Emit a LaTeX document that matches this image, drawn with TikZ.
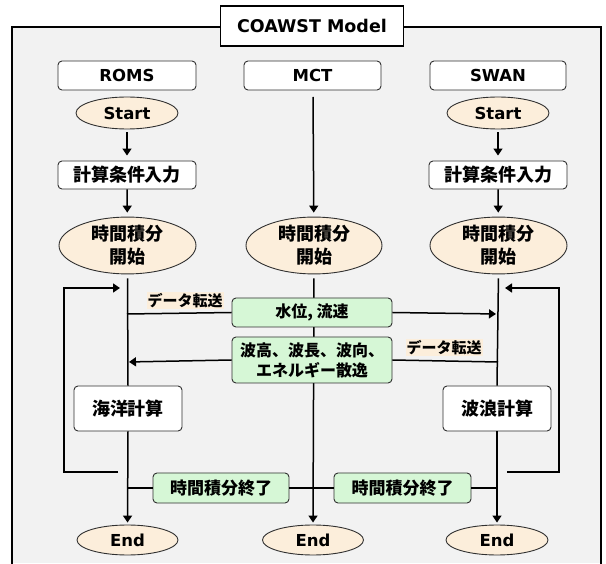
\documentclass[tikz,border=0pt]{standalone}
\usepackage{fontspec}
\setmainfont{DejaVu Sans}
\newfontfamily\jp{Noto Sans CJK JP}
\usetikzlibrary{shapes.geometric,arrows.meta}
\definecolor{bggray}{HTML}{F2F2F2}
\definecolor{peach}{HTML}{FCEEDB}
\definecolor{lgreen}{HTML}{D6F7D6}
\definecolor{edge}{HTML}{303030}
\tikzset{
  box/.style={draw=edge,line width=0.9pt,fill=white,rounded corners=4pt,inner sep=0pt,align=center,font=\bfseries\fontsize{16.5}{19}\selectfont},
  jbox/.style={box,font=\bfseries\jp\fontsize{18}{20}\selectfont},
  oval/.style={ellipse,draw=edge,line width=0.9pt,fill=peach,inner sep=0pt,align=center,font=\bfseries\fontsize{16.5}{22}\selectfont},
  joval/.style={oval,font=\bfseries\jp\fontsize{18}{23}\selectfont},
  gbox/.style={draw=edge,line width=0.9pt,fill=lgreen,rounded corners=4pt,inner sep=0pt,align=center,font=\bfseries\jp\fontsize{16}{20}\selectfont},
  lbl/.style={fill=peach,inner sep=1pt,font=\bfseries\jp\fontsize{15}{16}\selectfont},
  flow/.style={line width=1.5pt,draw=black},
  arr/.style={flow,-{Triangle[width=9pt,length=7pt]}},
}
\begin{document}
\begin{tikzpicture}[x=1pt,y=-1pt]
\useasboundingbox (0,0) rectangle (606,564);
% frame
\fill[bggray] (12,27) rectangle (601,563);
\draw[line width=1.6pt] (221,27) -- (12,27) -- (12,563.5);
\draw[line width=1.6pt] (403,27) -- (601,27) -- (601,563.5);
\node[draw=black,line width=1.6pt,fill=white,minimum width=183pt,minimum height=40pt,inner sep=0pt,font=\bfseries\fontsize{17.5}{19}\selectfont] (title) at (312,26) {COAWST Model};
% headers
\node[box,minimum width=138pt,minimum height=29pt] (roms) at (127,75.5) {ROMS};
\node[box,minimum width=137pt,minimum height=29pt] (mct) at (312.5,75.5) {MCT};
\node[box,minimum width=136pt,minimum height=29pt] (swan) at (498,75.5) {SWAN};
% start
\node[oval,minimum width=102pt,minimum height=32pt] (startL) at (127,113) {Start};
\node[oval,minimum width=102pt,minimum height=32pt] (startR) at (498,113) {Start};
% input
\node[jbox,minimum width=138pt,minimum height=28pt] (inL) at (127,175) {計算条件入力};
\node[jbox,minimum width=138pt,minimum height=28pt] (inR) at (498,175) {計算条件入力};
% time integration start
\node[joval,minimum width=137pt,minimum height=49pt] (tiL) at (127.5,245.5) {時間積分\\開始};
\node[joval,minimum width=136pt,minimum height=49pt] (tiM) at (314,245.5) {時間積分\\開始};
\node[joval,minimum width=137pt,minimum height=49pt] (tiR) at (498.5,245.5) {時間積分\\開始};
% coordinates
\coordinate (jL1) at (127,314);
\coordinate (jR1) at (498,314);
\coordinate (jL2) at (127,362);
\coordinate (jR2) at (498,362);
\coordinate (fbL1) at (118,472);
\coordinate (fbL2) at (64,472);
\coordinate (fbL3) at (64,288);
\coordinate (fbL4) at (127,288);
\coordinate (fbR1) at (507,472);
\coordinate (fbR2) at (559,472);
\coordinate (fbR3) at (559,288);
\coordinate (fbR4) at (498,288);
\coordinate (eL) at (127,488);
\coordinate (eM) at (313,488);
\coordinate (eR) at (498,488);
\coordinate (mtop) at (313,97);
% compute boxes
\node[jbox,minimum width=108pt,minimum height=45pt] (oc) at (128,408.5) {海洋計算};
\node[jbox,minimum width=108pt,minimum height=45pt] (wv) at (497,408.5) {波浪計算};
% end
\node[oval,minimum width=101pt,minimum height=30pt] (endL) at (127.5,540) {End};
\node[oval,minimum width=101pt,minimum height=30pt] (endM) at (313,540) {End};
\node[oval,minimum width=102pt,minimum height=30pt] (endR) at (497,540) {End};
% connectors behind green boxes
\draw[arr,shorten <=3pt,shorten >=5pt] (startL) -- (inL);
\draw[arr,shorten <=3pt,shorten >=5pt] (startR) -- (inR);
\draw[arr,shorten >=4pt] (inL) -- (tiL);
\draw[arr,shorten >=4pt] (inR) -- (tiR);
\draw[arr,shorten >=4pt] (mtop) -- (tiM);
\draw[flow,shorten <=4pt] (tiL.south) -- (oc.north);
\draw[flow,shorten <=4pt] (tiR.south) -- (wv.north);
\draw[arr,shorten >=2pt] (oc.south) -- (endL.north);
\draw[arr,shorten >=2pt] (wv.south) -- (endR.north);
\draw[arr,shorten <=4pt,shorten >=2pt] (tiM.south) -- (endM.north);
% green boxes
\node[gbox,minimum width=160pt,minimum height=29pt] (wl) at (312,312.5) {水位, 流速};
\node[gbox,minimum width=160pt,minimum height=46pt] (wave) at (312,360) {波高、波長、波向、\\エネルギー散逸};
\node[gbox,minimum width=136pt,minimum height=30pt,font=\bfseries\jp\fontsize{17}{20}\selectfont] (te1) at (221,488) {時間積分終了};
\node[gbox,minimum width=137pt,minimum height=30pt,font=\bfseries\jp\fontsize{17}{20}\selectfont] (te2) at (402.5,488) {時間積分終了};
% data transfer
\draw[flow] (jL1) -- (wl.west);
\draw[arr,shorten >=2pt] (wl.east) -- (jR1);
\draw[flow] (jR2) -- (wave.east);
\draw[arr,shorten >=2pt] (wave.west) -- (jL2);
\node[lbl] (dt1) at (185,300.5) {データ転送};
\node[lbl] (dt2) at (444,347.5) {データ転送};
% feedback loops
\draw[arr,shorten >=7pt] (fbL1) -- (fbL2) -- (fbL3) -- (fbL4);
\draw[arr,shorten >=7pt] (fbR1) -- (fbR2) -- (fbR3) -- (fbR4);
% end of integration
\draw[flow] (eL) -- (te1.west);
\draw[flow] (te1.east) -- (eM) -- (te2.west);
\draw[flow] (te2.east) -- (eR);
\end{tikzpicture}
\end{document}
